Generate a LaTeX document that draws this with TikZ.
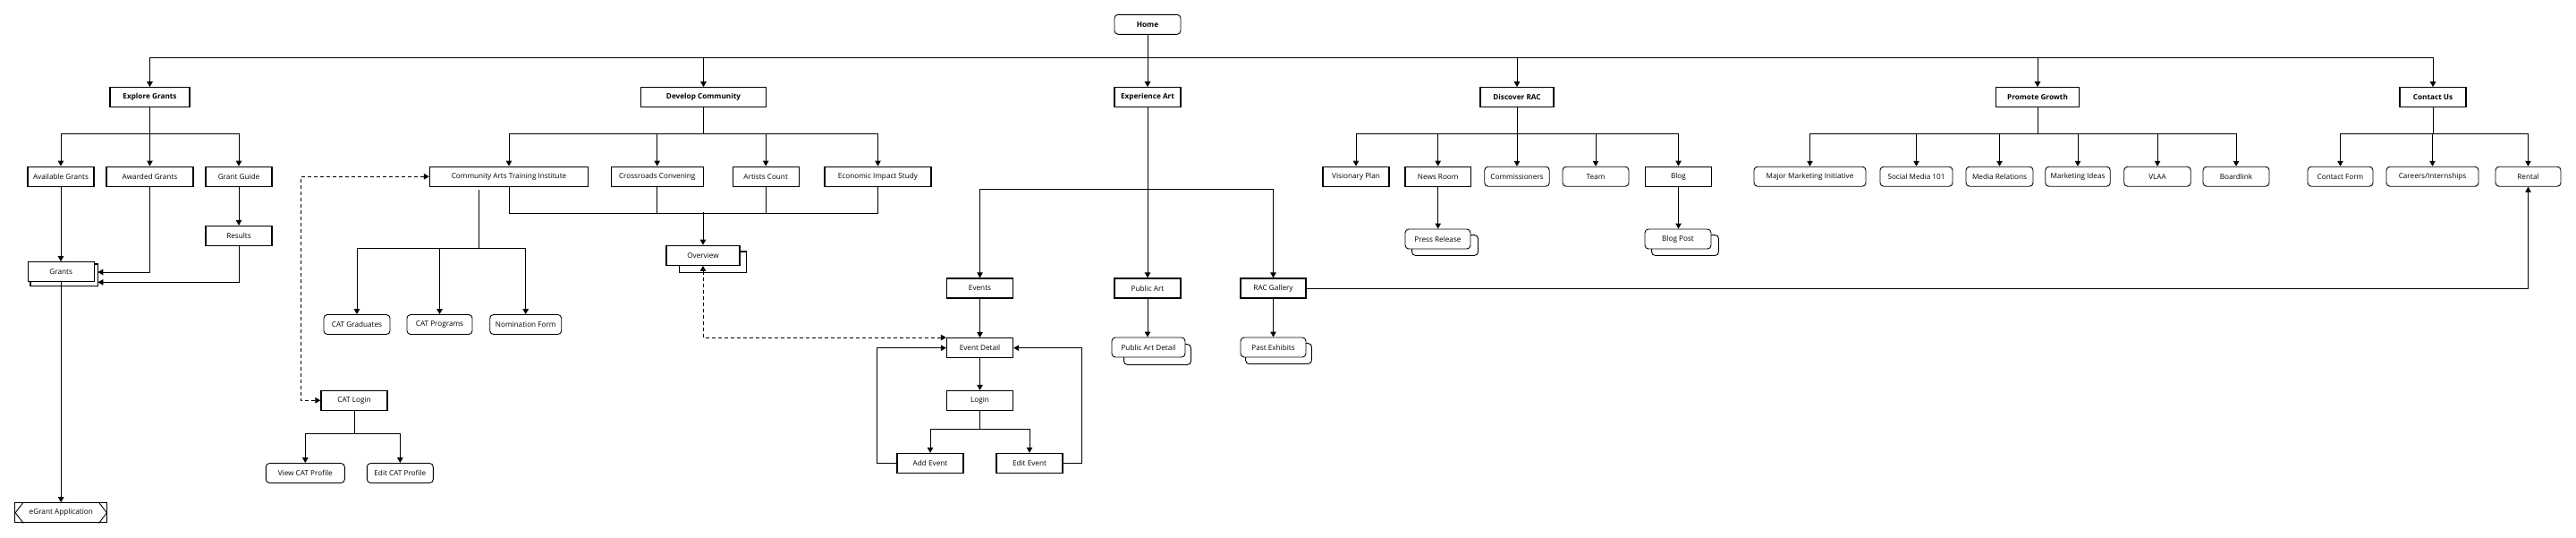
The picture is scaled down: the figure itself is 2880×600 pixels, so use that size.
\documentclass[tikz,border=0pt]{standalone}
\usepackage{fontspec}
\setmainfont{Open Sans}
\usetikzlibrary{arrows.meta,calc,backgrounds}
\newcommand\mysize{\fontsize{8.2}{9.5}\selectfont}
\tikzset{
  boxbase/.style={draw, fill=white, inner sep=0pt, minimum height=22pt, font=\mysize, align=center},
  boxsq/.style={boxbase, line width=1.3pt},
  boxhdr/.style={boxsq, font=\mysize\bfseries},
  boxrnd/.style={boxbase, rounded corners=4pt, line width=0.9pt},
  shsq/.style={draw, fill=white, line width=1.3pt},
  shrnd/.style={draw, fill=white, line width=0.9pt, rounded corners=4pt},
  plain/.style={line width=0.9pt},
  conn/.style={line width=0.9pt, -{Triangle[width=6.5pt,length=6pt]}},
  dconn/.style={line width=0.9pt, dash pattern=on 4pt off 3pt, {Triangle[width=6.5pt,length=6pt]}-{Triangle[width=6.5pt,length=6pt]}},
}
\begin{document}
\begin{tikzpicture}[x=1pt,y=-1pt]
\useasboundingbox (0,0) rectangle (2880,600);

% top
\node[boxrnd, font=\mysize\bfseries, minimum width=74pt] (home) at (1283,27.3) {Home};
\node[boxhdr, minimum width=89pt] (eg) at (167.5,108.8) {Explore Grants};
\node[boxhdr, minimum width=140pt] (dc) at (786.5,108.8) {Develop Community};
\node[boxhdr, minimum width=74pt] (ea) at (1283,108.8) {Experience Art};
\node[boxhdr, minimum width=82pt] (dr) at (1696,108.8) {Discover RAC};
\node[boxhdr, minimum width=93pt] (pg) at (2278,108.8) {Promote Growth};
\node[boxhdr, minimum width=74pt] (cu) at (2720,108.8) {Contact Us};

% explore grants
\node[boxsq, minimum width=74pt] (avg) at (68,197.2) {Available Grants};
\node[boxsq, minimum width=97pt] (awg) at (167.5,197.2) {Awarded Grants};
\node[boxsq, minimum width=74pt] (gg) at (267,197.2) {Grant Guide};
\node[boxsq, minimum width=74pt] (res) at (267,263.5) {Results};
\node[boxsq, minimum width=74pt] (grants) at (68.2,303.7) {Grants};
\node[boxsq, minimum width=103pt] (egapp) at (68.3,572.8) {eGrant Application};

% develop community
\node[boxsq, minimum width=177pt] (cati) at (569,197.2) {Community Arts Training Institute};
\node[boxsq, minimum width=103pt] (cross) at (734.7,197.2) {Crossroads Convening};
\node[boxsq, minimum width=74pt] (artc) at (856.2,197.2) {Artists Count};
\node[boxsq, minimum width=119pt] (econ) at (981.5,197.2) {Economic Impact Study};
\node[boxsq, minimum width=82pt] (overview) at (786,285.3) {Overview};
\node[boxrnd, minimum width=74pt] (catgrad) at (399,362.5) {CAT Graduates};
\node[boxrnd, minimum width=73pt] (catprog) at (491.5,362.5) {CAT Programs};
\node[boxrnd, minimum width=80pt] (nomf) at (587.7,362.5) {Nomination Form};
\node[boxsq, minimum width=74pt] (catlogin) at (396,447.3) {CAT Login};
\node[boxrnd, minimum width=88pt] (viewcat) at (341.3,528.5) {View CAT Profile};
\node[boxrnd, minimum width=74pt] (editcat) at (447.3,528.5) {Edit CAT Profile};

% experience art
\node[boxsq, minimum width=74pt] (events) at (1095.5,322) {Events};
\node[boxsq, minimum width=74pt] (pubart) at (1283,322) {Public Art};
\node[boxsq, minimum width=73pt] (racg) at (1423.5,322) {RAC Gallery};
\node[boxsq, minimum width=74pt] (ed) at (1095.5,388.7) {Event Detail};
\node[boxsq, minimum width=74pt] (login) at (1095.5,447.5) {Login};
\node[boxsq, minimum width=74pt] (addev) at (1040,517.5) {Add Event};
\node[boxsq, minimum width=74pt] (editev) at (1151,517.5) {Edit Event};
\node[boxrnd, minimum width=82pt] (pad) at (1284,388) {Public Art Detail};
\node[boxrnd, minimum width=73pt] (pastex) at (1423.5,388) {Past Exhibits};

% discover rac
\node[boxsq, minimum width=74pt] (vis) at (1516,197.2) {Visionary Plan};
\node[boxsq, minimum width=73.5pt] (news) at (1607.7,197.2) {News Room};
\node[boxrnd, minimum width=72.5pt] (comm) at (1696,197.2) {Commissioners};
\node[boxrnd, minimum width=74pt] (team) at (1784,197.2) {Team};
\node[boxsq, minimum width=74.5pt] (blog) at (1876.5,197.2) {Blog};
\node[boxrnd, minimum width=73pt] (press) at (1607.5,267) {Press Release};
\node[boxrnd, minimum width=74pt] (blogpost) at (1876,267) {Blog Post};

% promote growth
\node[boxrnd, minimum width=125pt] (mmi) at (2023.5,197.2) {Major Marketing Initiative};
\node[boxrnd, minimum width=81pt] (sm) at (2142.5,197.2) {Social Media 101};
\node[boxrnd, minimum width=75pt] (mr) at (2235.5,197.2) {Media Relations};
\node[boxrnd, minimum width=72.5pt] (mi) at (2323,197.2) {Marketing Ideas};
\node[boxrnd, minimum width=74.5pt] (vlaa) at (2412,197.2) {VLAA};
\node[boxrnd, minimum width=74pt] (board) at (2500,197.2) {Boardlink};

% contact us
\node[boxrnd, minimum width=73pt] (cform) at (2616.5,197.2) {Contact Form};
\node[boxrnd, minimum width=103pt] (careers) at (2719.5,197.2) {Careers/Internships};
\node[boxrnd, minimum width=73pt] (rental) at (2826.5,197.2) {Rental};

% background and stacked shadows
\begin{pgfonlayer}{background}
\fill[white] (0,0) rectangle (2880,600);
\draw[shsq] ($(grants.north west)+(3.3,3)$) rectangle ($(grants.south east)+(3.4,4)$);
\draw[shsq] ($(overview.north west)+(15,7.4)$) rectangle ($(overview.south east)+(7,7.7)$);
\draw[shrnd] ($(pad.north west)+(14,8)$) rectangle ($(pad.south east)+(6,8)$);
\draw[shrnd] ($(pastex.north west)+(6,7)$) rectangle ($(pastex.south east)+(6,7)$);
\draw[shrnd] ($(press.north west)+(8,7)$) rectangle ($(press.south east)+(8,7)$);
\draw[shrnd] ($(blogpost.north west)+(8,7)$) rectangle ($(blogpost.south east)+(8,7)$);
\end{pgfonlayer}

% eGrant chevrons
\draw[plain] ($(egapp.north west)+(10,0)$) -- ($(egapp.west)+(1,0)$) -- ($(egapp.south west)+(10,0)$);
\draw[plain] ($(egapp.north east)+(-10,0)$) -- ($(egapp.east)+(-1,0)$) -- ($(egapp.south east)+(-10,0)$);

% level 1
\draw[conn] (home.south) -- ++(0,26) -| (eg.north);
\draw[conn] (home.south) -- ++(0,26) -| (dc.north);
\draw[conn] (home.south) -- (ea.north);
\draw[conn] (home.south) -- ++(0,26) -| (dr.north);
\draw[conn] (home.south) -- ++(0,26) -| (pg.north);
\draw[conn] (home.south) -- ++(0,26) -| (cu.north);

% explore grants
\foreach \c in {avg,awg,gg} \draw[conn] (eg.south) -- ++(0,28.5) -| (\c.north);
\draw[conn] (gg.south) -- (res.north);
\draw[conn] (avg.south) -- (avg.south |- grants.north);
\draw[conn] (awg.south) |- ($(grants.east)+(3.5,0.3)$);
\draw[conn] (res.south) |- ($(grants.south east)+(3.6,0)$);
\draw[conn] (grants.south) -- (grants.south |- egapp.north);

% develop community
\foreach \c in {cati,cross,artc,econ} \draw[conn] (dc.south) -- ++(0,28.5) -| (\c.north);
\draw[plain] (cati.south) -- ++(0,29.1) -| (econ.south);
\draw[plain] (cross.south) -- ++(0,29.1);
\draw[plain] (artc.south) -- ++(0,29.1);
\coordinate (dcbus) at (786,237.3);
\draw[conn] (dcbus) -- (overview.north);
\coordinate (catbus) at (535,277.3);
\draw[plain] ($(cati.south)+(-34,3.5)$) -- (catbus);
\foreach \c in {catgrad,catprog,nomf} \draw[conn] (catbus) -| (\c.north);
\draw[dconn] (cati.west) -- ++(-143.4,0) |- (catlogin.west);
\foreach \c in {viewcat,editcat} \draw[conn] (catlogin.south) -- ++(0,25.7) -| (\c.north);

% experience art
\draw[conn] (ea.south) -- (pubart.north);
\coordinate (eabus) at (1283,211.7);
\draw[conn] (eabus) -| (events.north);
\draw[conn] (eabus) -| (racg.north);
\draw[conn] (events.south) -- (ed.north);
\draw[conn] (ed.south) -- (login.north);
\foreach \c in {addev,editev} \draw[conn] (login.south) -- ++(0,19.8) -| (\c.north);
\draw[conn] (addev.west) -- ++(-22,0) |- (ed.west);
\draw[conn] (editev.east) -- ++(21,0) |- (ed.east);
\draw[dconn] (overview.south) |- (ed.north west);
\draw[conn] (pubart.south) -- (pubart.south |- pad.north);
\draw[conn] (racg.south) -- (pastex.north);
\draw[conn] (racg.east) -| (rental.south);

% discover rac
\foreach \c in {vis,news,comm,team,blog} \draw[conn] (dr.south) -- ++(0,28.5) -| (\c.north);
\draw[conn] (news.south) -- (news.south |- press.north);
\draw[conn] (blog.south) -- (blog.south |- blogpost.north);

% promote growth
\foreach \c in {mmi,sm,mr,mi,vlaa,board} \draw[conn] (pg.south) -- ++(0,28.5) -| (\c.north);

% contact us
\foreach \c in {cform,careers,rental} \draw[conn] (cu.south) -- ++(0,28.5) -| (\c.north);
\end{tikzpicture}
\end{document}
